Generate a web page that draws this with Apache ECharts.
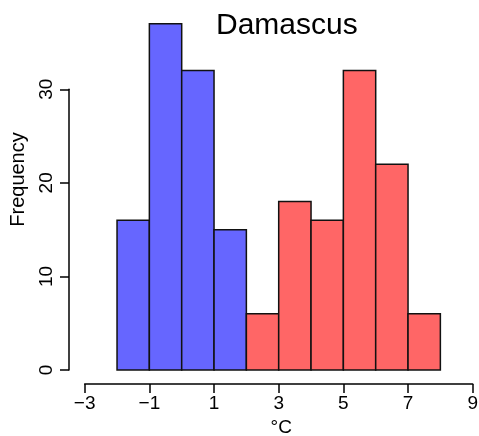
<!DOCTYPE html>
<html>
<head>
<meta charset="utf-8">
<script src="https://cdn.jsdelivr.net/npm/echarts@6/dist/echarts.min.js"></script>
<style>html,body{margin:0;padding:0;background:#fff;}#c{width:479px;height:436px;}</style>
</head>
<body>
<div id="c"></div>
<script>
const titleText = 'Damascus';
const xName = '°C';
const yName = 'Frequency';
const blueEdges = [-2, -1, 0, 1, 2];
const blueCounts = [16, 37, 32, 15];
const redEdges = [2, 3, 4, 5, 6, 7, 8];
const redCounts = [6, 18, 16, 32, 22, 6];
const xTicks = {min: -3, max: 9, interval: 2};
const yTicks = {min: 0, max: 30, interval: 10};

function bins(edges, counts) {
  return counts.map((c, i) => [edges[i], edges[i + 1], c]);
}
const FONT = 'Liberation Sans, Arial, Helvetica, sans-serif';

function renderItem(params, api) {
  const p0 = api.coord([api.value(0), 0]);
  const p1 = api.coord([api.value(1), api.value(2)]);
  return {
    type: 'rect',
    shape: {x: p0[0], y: p1[1], width: p1[0] - p0[0], height: p0[1] - p1[1]},
    style: {fill: api.visual('color'), stroke: '#111', lineWidth: 1.5}
  };
}

const chart = echarts.init(document.getElementById('c'), null, {renderer: 'canvas'});
chart.setOption({
  animation: false,
  backgroundColor: '#fff',
  title: {
    text: titleText, left: 216, top: 11, padding: 0,
    textStyle: {fontFamily: FONT, fontSize: 30, fontWeight: 'normal', color: '#000'}
  },
  graphic: [{
    type: 'text', x: 18, y: 179.5, rotation: Math.PI / 2,
    style: {text: yName, fontFamily: FONT, fontSize: 20, fill: '#000', align: 'center', verticalAlign: 'middle'}
  }],
  grid: {left: 84.7, right: 6.3, top: 89.3, bottom: 66, containLabel: false, outerBoundsMode: 'none'},
  xAxis: {
    type: 'value', min: xTicks.min, max: xTicks.max, interval: xTicks.interval,
    offset: 14,
    name: xName, nameLocation: 'middle', nameGap: 29,
    nameTextStyle: {fontFamily: FONT, fontSize: 19, color: '#000', padding: [0, 0, 0, 5]},
    axisLine: {show: true, onZero: false, lineStyle: {color: '#000', width: 1.5}},
    axisTick: {show: true, length: 9, lineStyle: {color: '#000', width: 1.5}},
    axisLabel: {fontFamily: FONT, fontSize: 19, color: '#000', margin: 10,
      formatter: v => (v < 0 ? '\u2212' + Math.abs(v) : String(v))},
    splitLine: {show: false}
  },
  yAxis: {
    type: 'value', min: yTicks.min, max: yTicks.max, interval: yTicks.interval,
    offset: 15.7,
    axisLine: {show: true, onZero: false, lineStyle: {color: '#000', width: 1.5}},
    axisTick: {show: true, length: 9, lineStyle: {color: '#000', width: 1.5}},
    axisLabel: {fontFamily: FONT, fontSize: 19, color: '#000', margin: 13, rotate: 90},
    splitLine: {show: false}
  },
  series: [
    {type: 'custom', renderItem, clip: false, itemStyle: {color: '#6666FF'},
      encode: {x: [0, 1], y: 2}, data: bins(blueEdges, blueCounts)},
    {type: 'custom', renderItem, clip: false, itemStyle: {color: '#FF6666'},
      encode: {x: [0, 1], y: 2}, data: bins(redEdges, redCounts)}
  ]
});
</script>
</body>
</html>
